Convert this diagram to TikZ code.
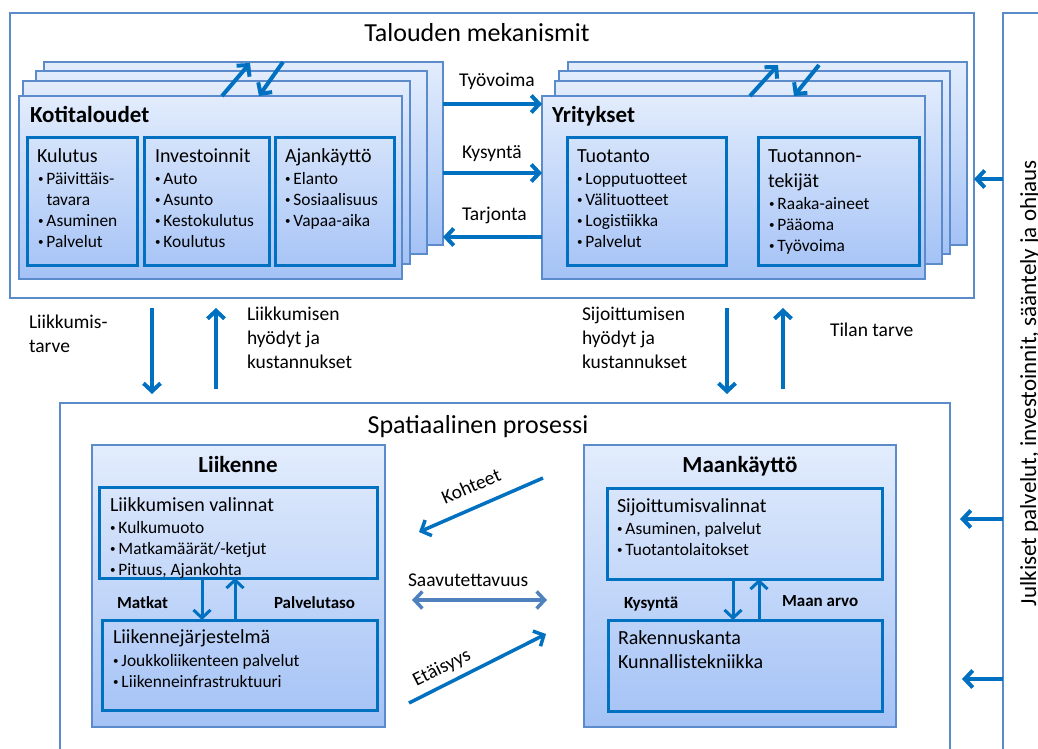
\documentclass[tikz,border=0pt]{standalone}
\usepackage{fontspec}
\setmainfont{Carlito}
\usetikzlibrary{arrows.meta}

\definecolor{frame}{HTML}{5B8BCB}
\definecolor{dblue}{HTML}{0070C0}
\definecolor{gtop}{HTML}{E2ECFC}
\definecolor{gbot}{HTML}{A4C2F6}
\definecolor{accblue}{HTML}{4F81BD}

\newcommand\fsz[1]{\fontsize{#1}{#1}\selectfont}
% small list bullet followed by a short gap
\newcommand\bul{\raisebox{1.2pt}{\fontsize{11}{11}\selectfont\textbullet}\hspace{3pt}}
% box node from its top-left corner (x1,y1) to bottom-right corner (x2,y2)
\newcommand\boxnode[6]{\node[#1, anchor=north west, minimum width={#4-#2}, minimum height={#5-#3}] (#6) at (#2,#3) {};}

\tikzset{
  every node/.style={inner sep=0pt, outer sep=0pt},
  outerbox/.style={draw=frame, line width=1.3pt, fill=white},
  layer/.style={draw=frame, line width=1.1pt, top color=gtop, bottom color=gbot},
  inbox/.style={draw=dblue, line width=3pt},
  txt/.style={anchor=base west, font=\fsz{17.4}},
  head/.style={anchor=base west, font=\fsz{20}},
  ttl/.style={anchor=base, font=\fsz{26}},
  boldttl/.style={anchor=base west, font=\fsz{23}\bfseries},
  lbl/.style={anchor=base west, font=\fsz{19.5}},
  blbl/.style={anchor=base west, font=\fsz{17}\bfseries},
  arr/.style={draw=dblue, line width=4pt, -{Straight Barb[length=8pt,width=17pt]}},
  sarr/.style={draw=dblue, line width=3pt, -{Straight Barb[length=8pt,width=17pt]}},
  darr/.style={draw=accblue, line width=3.5pt, {Straight Barb[length=8pt,width=17pt]}-{Straight Barb[length=8pt,width=17pt]}},
}

\begin{document}
\begin{tikzpicture}[x=1pt,y=-1pt]
\path[use as bounding box] (0,0) rectangle (1038,749);
\clip (0,0) rectangle (1038,749);

% frames
\boxnode{outerbox}{10}{13}{974}{298}{tal}
\boxnode{outerbox}{1003}{13}{1050}{760}{jul}
\boxnode{outerbox}{60}{403}{950}{760}{spa}

% households: stacked sheets
\boxnode{layer}{44}{62}{443}{245}{kotD}
\boxnode{layer}{36}{71}{427}{254}{kotC}
\boxnode{layer}{23}{81}{410}{264}{kotB}
\boxnode{layer}{19}{96}{402}{279}{kot}
\boxnode{inbox}{27}{137}{137}{265}{kul}
\boxnode{inbox}{144}{137}{269}{265}{inv}
\boxnode{inbox}{275}{137}{394}{265}{aja}

% firms: stacked sheets
\boxnode{layer}{568}{62}{967}{245}{yriD}
\boxnode{layer}{559}{71}{950}{254}{yriC}
\boxnode{layer}{555}{81}{942}{264}{yriB}
\boxnode{layer}{542}{96}{925}{279}{yri}
\boxnode{inbox}{567}{137}{726}{265}{tuo}
\boxnode{inbox}{758}{137}{919}{265}{tek}

% transport and land use
\boxnode{layer}{92}{445}{385}{727}{lii}
\boxnode{inbox}{99}{487}{377}{578}{lval}
\boxnode{inbox}{102}{620}{377}{710}{ljar}
\boxnode{layer}{584}{445}{896}{727}{maa}
\boxnode{inbox}{607}{488}{882}{579}{sval}
\boxnode{inbox}{608}{620}{882}{711}{rak}

% free ends of the slanted connectors
\coordinate (kotUp) at (250,63);
\coordinate (kotDn) at (283,62);
\coordinate (yriUp) at (778,65);
\coordinate (yriDn) at (819,65);
\coordinate (kohA) at (543,478);
\coordinate (kohB) at (419,532);
\coordinate (etaA) at (409,703);
\coordinate (etaB) at (546,634);

% connectors
\draw[arr] (kot.north -| 222,0) -- (kotUp);
\draw[arr] (kotDn) -- (kot.north -| 259,0);
\draw[arr] (yri.north -| 750,0) -- (yriUp);
\draw[arr] (yriDn) -- (yri.north -| 794,0);

\draw[arr] (kotD.east |- 0,104) -- (yri.west |- 0,104);
\draw[arr] (kotD.east |- 0,173) -- (yri.west |- 0,173);
\draw[arr] (yri.west |- 0,237) -- (kotD.east |- 0,237);

\draw[arr] (jul.west |- 0,179) -- (tal.east |- 0,179);
\draw[arr, shorten >=10pt] (jul.west |- 0,519) -- (spa.east |- 0,519);
\draw[arr, shorten >=12pt] (jul.west |- 0,679) -- (spa.east |- 0,679);

\draw[arr, shorten <=10pt, shorten >=9pt] (tal.south -| 152,0) -- (spa.north -| 152,0);
\draw[arr, shorten <=14pt, shorten >=10pt] (spa.north -| 216,0) -- (tal.south -| 216,0);
\draw[arr, shorten <=10pt, shorten >=9pt] (tal.south -| 727,0) -- (spa.north -| 727,0);
\draw[arr, shorten <=14pt, shorten >=10pt] (spa.north -| 783,0) -- (tal.south -| 783,0);

\draw[sarr] (lval.south -| 202,0) -- (ljar.north -| 202,0);
\draw[sarr] (ljar.north -| 235,0) -- (lval.south -| 235,0);
\draw[sarr] (sval.south -| 733,0) -- (rak.north -| 733,0);
\draw[sarr] (rak.north -| 759,0) -- (sval.south -| 759,0);

\draw[arr, line width=3.5pt] (kohA) -- (kohB);
\draw[arr, line width=3.5pt] (etaA) -- (etaB);
\draw[darr, shorten <=27pt, shorten >=37pt] (lii.east |- 0,600) -- (maa.west |- 0,600);

% titles
\node[ttl] (tmek) at (477,42) {Talouden mekanismit};
\node[ttl] (spat) at (478,433) {Spatiaalinen prosessi};
\node[anchor=base, rotate=90, font=\fsz{23}] (julk) at (1036,383) {Julkiset palvelut, investoinnit, sääntely ja ohjaus};

% households
\node[boldttl] (kotT) at (30,122) {Kotitaloudet};
\node[head] (kulT) at (37,162) {Kulutus};
\node[txt] (kul1) at (38,184) {\bul Päivittäis-};
\node[txt] (kul1b) at (46.5,205) {tavara};
\node[txt] (kul2) at (38,226) {\bul Asuminen};
\node[txt] (kul3) at (38,247) {\bul Palvelut};
\node[head] (invT) at (155,162) {Investoinnit};
\node[txt] (inv1) at (155,184) {\bul Auto};
\node[txt] (inv2) at (155,205) {\bul Asunto};
\node[txt] (inv3) at (155,226) {\bul Kestokulutus};
\node[txt] (inv4) at (155,247) {\bul Koulutus};
\node[head] (ajaT) at (285,162) {Ajankäyttö};
\node[txt] (aja1) at (285,184) {\bul Elanto};
\node[txt] (aja2) at (285,205) {\bul Sosiaalisuus};
\node[txt] (aja3) at (285,226) {\bul Vapaa-aika};

% firms
\node[boldttl] (yriT) at (552,122) {Yritykset};
\node[head] (tuoT) at (577,162) {Tuotanto};
\node[txt] (tuo1) at (577,184) {\bul Lopputuotteet};
\node[txt] (tuo2) at (577,205) {\bul Välituotteet};
\node[txt] (tuo3) at (577,226) {\bul Logistiikka};
\node[txt] (tuo4) at (577,247) {\bul Palvelut};
\node[head] (tekT) at (768,162) {Tuotannon-};
\node[head] (tekT2) at (768,187) {tekijät};
\node[txt] (tek1) at (769,209) {\bul Raaka-aineet};
\node[txt] (tek2) at (769,230) {\bul Pääoma};
\node[txt] (tek3) at (769,251) {\bul Työvoima};

% flow labels
\node[lbl] (lTyo) at (459,87) {Työvoima};
\node[lbl] (lKys) at (462,158) {Kysyntä};
\node[lbl] (lTar) at (462,220) {Tarjonta};
\node[lbl] (lLt1) at (29,328) {Liikkumis-};
\node[lbl] (lLt2) at (29,352) {tarve};
\node[lbl] (lLh1) at (247,320) {Liikkumisen};
\node[lbl] (lLh2) at (247,344) {hyödyt ja};
\node[lbl] (lLh3) at (247,368) {kustannukset};
\node[lbl] (lSh1) at (582,320) {Sijoittumisen};
\node[lbl] (lSh2) at (582,344) {hyödyt ja};
\node[lbl] (lSh3) at (582,368) {kustannukset};
\node[lbl] (lTil) at (830,336) {Tilan tarve};
\node[lbl] (lSaa) at (408,586) {Saavutettavuus};
\node[anchor=center, rotate=23.5, font=\fsz{19.5}] (lKoh) at (471,486) {Kohteet};
\node[anchor=center, rotate=26.7, font=\fsz{19.5}] (lEta) at (442,668) {Etäisyys};

% transport
\node[anchor=base, font=\fsz{23}\bfseries] (liiT) at (238,472) {Liikenne};
\node[head] (lvalT) at (110,511) {Liikkumisen valinnat};
\node[txt] (lval1) at (110,533) {\bul Kulkumuoto};
\node[txt] (lval2) at (110,554) {\bul Matkamäärät/-ketjut};
\node[txt] (lval3) at (110,575) {\bul Pituus, Ajankohta};
\node[blbl] (lMat) at (117,608) {Matkat};
\node[blbl] (lPal) at (274,608) {Palvelutaso};
\node[head] (ljarT) at (113,643) {Liikennejärjestelmä};
\node[txt] (ljar1) at (113,666) {\bul Joukkoliikenteen palvelut};
\node[txt] (ljar2) at (113,687) {\bul Liikenneinfrastruktuuri};

% land use
\node[anchor=base, font=\fsz{23}\bfseries] (maaT) at (740,472) {Maankäyttö};
\node[head] (svalT) at (617,512) {Sijoittumisvalinnat};
\node[txt] (sval1) at (617,534) {\bul Asuminen, palvelut};
\node[txt] (sval2) at (617,555) {\bul Tuotantolaitokset};
\node[blbl] (lKys2) at (624,608) {Kysyntä};
\node[blbl] (lMaa) at (782,606) {Maan arvo};
\node[head] (rak1) at (618,644) {Rakennuskanta};
\node[head] (rak2) at (618,668) {Kunnallistekniikka};
\end{tikzpicture}
\end{document}
